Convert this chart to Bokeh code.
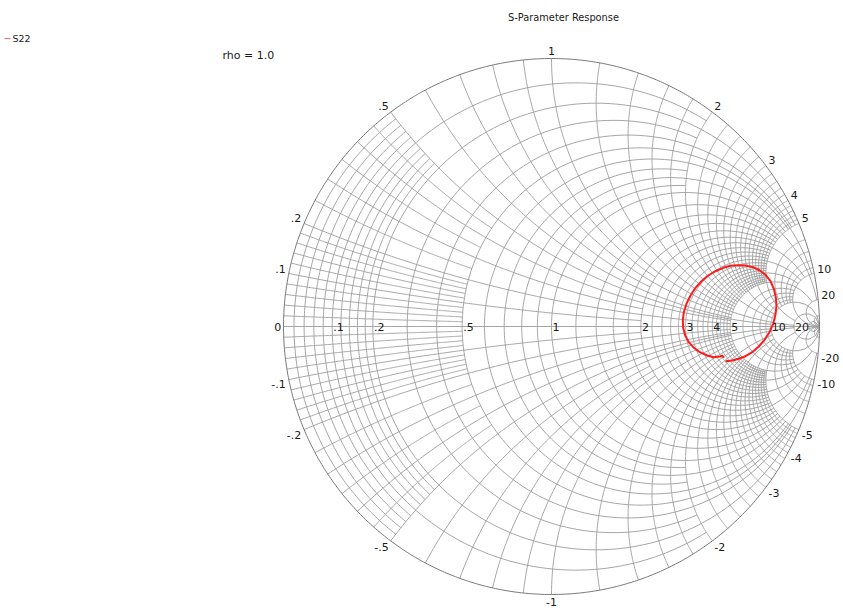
import numpy as np
from bokeh.plotting import figure
from bokeh.models import Range1d
from bokeh.embed import file_html
from bokeh.resources import INLINE
from bokeh.core.properties import value

# ---------------- data ----------------
s22_re = [0.6493, 0.6743, 0.6989, 0.7239, 0.7489, 0.7735, 0.7948, 0.8134, 0.8272,
          0.8358, 0.8396, 0.8369, 0.8295, 0.8172, 0.7985, 0.7772, 0.7526, 0.7239,
          0.6951, 0.6679, 0.6407, 0.6119, 0.5847, 0.5597, 0.5373, 0.5187, 0.5037,
          0.4937, 0.4899, 0.4914, 0.4989, 0.5123, 0.5310, 0.5534, 0.5810, 0.6056,
          0.6280, 0.6381, 0.6429]
s22_im = [-0.1295, -0.1269, -0.1205, -0.1108, -0.0959, -0.0746, -0.0496, -0.0213,
          0.0101, 0.0448, 0.0784, 0.1093, 0.1407, 0.1690, 0.1929, 0.2090, 0.2213,
          0.2276, 0.2287, 0.2265, 0.2190, 0.2063, 0.1903, 0.1690, 0.1444, 0.1157,
          0.0847, 0.0534, 0.0224, -0.0049, -0.0336, -0.0586, -0.0795, -0.0959,
          -0.1082, -0.1146, -0.1119, -0.1093, -0.1168]

# labels on the real axis (normalised resistance)
r_ticks = [0, 0.1, 0.2, 0.5, 1, 2, 3, 4, 5, 10, 20]
r_tick_text = ["0", ".1", ".2", ".5", "1", "2", "3", "4", "5", "10", "20"]
# labels on the rim (normalised reactance)
x_ticks = [0.1, 0.2, 0.5, 1, 2, 3, 4, 5, 10, 20]
x_tick_text = [".1", ".2", ".5", "1", "2", "3", "4", "5", "10", "20"]

# grid: constant-r circles (values) drawn for |x| up to a limit
r_grid_vals = [
    [0.02, 0.04, 0.06, 0.08, 0.12, 0.14, 0.16, 0.18],
    [0.1, 0.3, 0.7, 0.9],
    [0.2, 0.4, 0.6, 0.8, 1.2, 1.4, 1.6, 1.8, 2.2, 2.4, 2.6, 2.8, 3.2, 3.4, 3.6, 3.8,
     4.2, 4.4, 4.6, 4.8],
    [0.5, 2, 3, 4, 6, 7, 8, 9],
    [1, 5],
    [10, 20, 50],
]
r_grid_xlim = [0.5, 2, 5, 10, 20, 1e4]

# grid: constant-x arcs (values) drawn for r up to a limit
x_grid_vals = [
    [0.02, 0.04, 0.06, 0.08, 0.12, 0.14, 0.16, 0.18, 0.25, 0.35, 0.45],
    [0.1, 0.3, 0.7, 0.9],
    [0.2, 0.4, 0.6, 0.8, 1.2, 1.4, 1.6, 1.8, 2.2, 2.4, 2.6, 2.8, 3.2, 3.4, 3.6, 3.8,
     4.2, 4.4, 4.6, 4.8],
    [0.5, 2, 3, 4, 6, 7, 8, 9],
    [1, 5],
    [10, 20, 50],
]
x_grid_rlim = [0.5, 2, 5, 10, 20, 1e4]

title_text = "S-Parameter Response"
legend_text = "S22"
rho_text = "rho = 1.0"

# ---------------- helpers ----------------
def gamma(z):
    return (z - 1) / (z + 1)

def r_circle(r, x1, n=160):
    ph = np.linspace(-np.arctan(x1), np.arctan(x1), n)
    g = gamma(r + 1j * np.tan(ph))
    return list(g.real), list(g.imag)

def x_arc(x, r1, n=160):
    ph = np.linspace(0, np.arctan(r1), n)
    g = gamma(np.tan(ph) + 1j * x)
    return list(g.real), list(g.imag)

xs, ys = [], []
for vals, lim in zip(r_grid_vals, r_grid_xlim):
    for r in vals:
        a, b = r_circle(r, lim)
        xs.append(a); ys.append(b)
for vals, lim in zip(x_grid_vals, x_grid_rlim):
    for x in vals:
        for s in (1, -1):
            a, b = x_arc(s * x, lim)
            xs.append(a); ys.append(b)
xs.append([-1.0, 1.0]); ys.append([0.0, 0.0])

# ---------------- figure ----------------
W, H = 843, 613
S = 268.0          # pixels per unit of |Gamma|
CX, CY = 551.0, 326.0
p = figure(width=W, height=H, output_backend="svg", toolbar_location=None,
           x_range=Range1d(-CX / S, (W - CX) / S),
           y_range=Range1d((CY - H) / S, CY / S),
           min_border=0, outline_line_color=None)
p.axis.visible = False
p.grid.visible = False
p.background_fill_color = "white"

p.multi_line(xs=xs, ys=ys, line_color="#9c9c9c", line_width=0.9)

th = np.linspace(0, 2 * np.pi, 721)
p.line(np.cos(th), np.sin(th), line_color="#777777", line_width=1)

p.line(s22_re, s22_im, line_color="#ff1a1a", line_width=2)

FONT = value("DejaVu Sans")

rg = [gamma(complex(r, 0)).real for r in r_ticks]
rx = [g + 0.004 if r > 0 else g - 0.008 for g, r in zip(rg, r_ticks)]
ralign = ["left" if r > 0 else "right" for r in r_ticks]
p.text(x=rx, y=[0.0] * len(rx), text=r_tick_text, text_align=ralign,
       text_baseline="middle", text_font=FONT, text_font_size="11px",
       text_color="#1a1a1a")

lx, ly, lt, la, lb = [], [], [], [], []
for x, t in zip(x_ticks, x_tick_text):
    for s in (1, -1):
        g = gamma(complex(0, s * x))
        gx, gy = g.real, g.imag
        if abs(gx) < 0.05:
            al = "center"
        elif gx < 0:
            al = "right"
        else:
            al = "left"
        lx.append(gx * 1.012)
        ly.append(gy * 1.012)
        lt.append(t if s > 0 else "-" + t)
        la.append(al)
        lb.append("bottom" if s > 0 else "top")
p.text(x=lx, y=ly, text=lt, text_align=la, text_baseline=lb,
       text_font=FONT, text_font_size="11px", text_color="#1a1a1a")

def px(xp):
    return (xp - CX) / S

def py(yp):
    return (CY - yp) / S

p.text(x=[px(563)], y=[py(17)], text=[title_text], text_align="center",
       text_baseline="middle", text_font=FONT, text_font_size="9.8px",
       text_color="#1a1a1a")
p.line([px(4), px(10)], [py(38), py(38)], line_color="#ff6666", line_width=1)
p.text(x=[px(12)], y=[py(38)], text=[legend_text], text_align="left",
       text_baseline="middle", text_font=FONT, text_font_size="9.5px",
       text_color="#1a1a1a")
p.text(x=[px(222)], y=[py(55)], text=[rho_text], text_align="left",
       text_baseline="middle", text_font=FONT, text_font_size="11px",
       text_color="#1a1a1a")

open("out.html", "w").write(file_html(p, INLINE))
